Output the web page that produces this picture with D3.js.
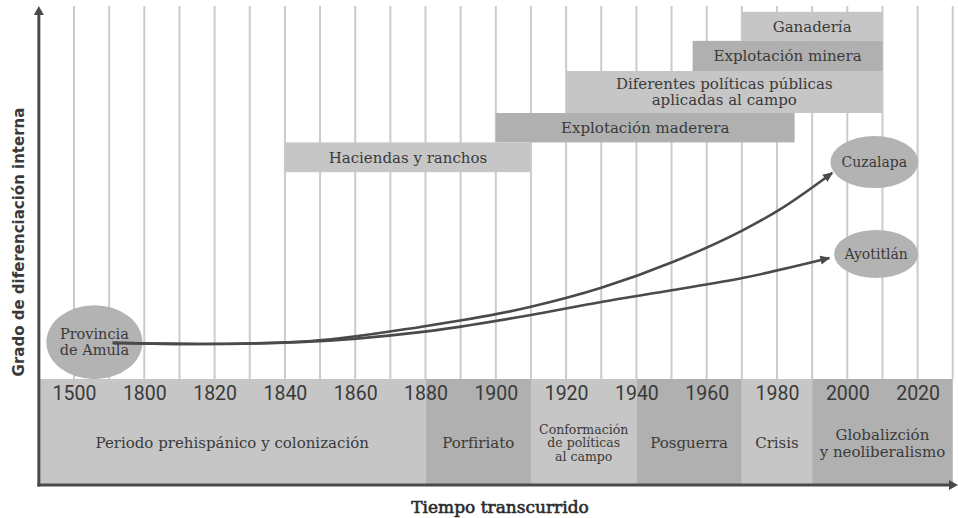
<!DOCTYPE html>
<html lang="es">
<head>
<meta charset="utf-8">
<title>Grado de diferenciación interna</title>
<script src="https://cdn.jsdelivr.net/npm/d3@7"></script>
<style>
    body { margin: 0; background: #fff; }
    svg { display: block; }
    .grid line { stroke: #cbcbcb; stroke-width: 2; }
    .lbl { font-family: "DejaVu Serif", serif; font-size: 15px; fill: #3a3a3a; }
    .yr text { font-family: Roboto, "DejaVu Sans", sans-serif; font-weight: 400; font-size: 19.5px; fill: #3a3a3a; }
    .title { font-family: "DejaVu Serif", serif; font-size: 17px; fill: #2b2b2b; stroke: #2b2b2b; stroke-width: 0.6; }
    .ytitle { font-family: "DejaVu Sans", sans-serif; font-weight: bold; font-size: 15px; fill: #3a3a3a; }
</style>
</head>
<body>
<div id="chart"></div>
<script>
// ticks along the time axis (first position is the 1500 break)
var tickYears  = [1780, 1800, 1820, 1840, 1860, 1880, 1900, 1920, 1940, 1960, 1980, 2000, 2020];
var tickLabels = ["1500", "1800", "1820", "1840", "1860", "1880", "1900", "1920", "1940", "1960", "1980", "2000", "2020"];
var gridYears  = d3.range(1780, 2031, 10);

// historical periods (bottom band)
var periodNames = [
    ["Periodo prehispánico y colonización"],
    ["Porfiriato"],
    ["Conformación", "de políticas", "al campo"],
    ["Posguerra"],
    ["Crisis"],
    ["Globalizción", "y neoliberalismo"]
];
var periodStart = [1770, 1880, 1910, 1940, 1970, 1990];
var periodEnd   = [1880, 1910, 1940, 1970, 1990, 2030];

// processes (upper bars)
var barNames = [
    ["Ganadería"],
    ["Explotación minera"],
    ["Diferentes políticas públicas", "aplicadas al campo"],
    ["Explotación maderera"],
    ["Haciendas y ranchos"]
];
var barStart = [1970, 1956, 1920, 1900, 1840];
var barEnd   = [2010, 2010, 2010, 1985, 1910];
var barLow   = [90.9, 82.8, 71.5, 63.6, 55.6];
var barHigh  = [98.7, 90.9, 82.8, 71.5, 63.6];

// communities
var placeNames  = [["Provincia", "de Amula"], ["Cuzalapa"], ["Ayotitlán"]];
var placeYears  = [1785.8, 2007.7, 2008.2];
var placeValues = [9.9, 58.3, 33.6];

// differentiation trajectories
var cuzalapaYears  = [1791, 1816, 1844, 1878.5, 1910, 1930, 1950.5, 1970.5, 1980.5, 1995.7];
var cuzalapaValues = [9.7, 9.4, 10.0, 14.0, 19.4, 24.5, 31.5, 40.1, 45.4, 55.4];
var ayotitlanYears  = [1791, 1816, 1844, 1878.5, 1910, 1930, 1950.5, 1970.5, 1994.9];
var ayotitlanValues = [9.7, 9.4, 9.9, 12.6, 17.2, 20.7, 23.9, 27.2, 32.5];

var width = 958, height = 518;
var light = "#c6c6c6", dark = "#b0b0b0", ink = "#4a4a4a";

var x = d3.scaleLinear().domain([1770, 2030]).range([38.85, 952.75]);
var y = d3.scaleLinear().domain([0, 100]).range([379, 7]);
var bandBottom = 485;

var svg = d3.select("#chart").append("svg")
    .attr("width", width)
    .attr("height", height);

var defs = svg.append("defs");
defs.append("marker")
    .attr("id", "arrow")
    .attr("markerUnits", "userSpaceOnUse")
    .attr("viewBox", "0 -5 10 10")
    .attr("refX", 9).attr("refY", 0)
    .attr("markerWidth", 11).attr("markerHeight", 10)
    .attr("orient", "auto")
    .append("path")
    .attr("d", "M0,-4.5L10,0L0,4.5Z")
    .attr("fill", ink);

// writes multi-line labels as tspans centred on the text's y
function wrapLines(sel, gap) {
    sel.each(function(d) {
        var t = d3.select(this);
        d.forEach(function(line, j) {
            t.append("tspan")
                .attr("x", t.attr("x"))
                .attr("dy", j === 0 ? (0.35 - (d.length - 1) * gap / 2) + "em" : gap + "em")
                .text(line);
        });
    });
}

// vertical grid
svg.append("g").attr("class", "grid")
    .selectAll("line")
    .data(gridYears)
    .enter().append("line")
    .attr("x1", d => x(d)).attr("x2", d => x(d))
    .attr("y1", 6).attr("y2", y(0));

// upper bars
var bars = svg.append("g").selectAll("g")
    .data(barNames)
    .enter().append("g");
bars.append("rect")
    .attr("x", (d, i) => x(barStart[i]))
    .attr("y", (d, i) => y(barHigh[i]))
    .attr("width", (d, i) => x(barEnd[i]) - x(barStart[i]))
    .attr("height", (d, i) => y(barLow[i]) - y(barHigh[i]))
    .attr("fill", (d, i) => i % 2 ? dark : light);
bars.append("text")
    .attr("class", "lbl")
    .attr("text-anchor", "middle")
    .attr("x", (d, i) => (x(barStart[i]) + x(barEnd[i])) / 2)
    .attr("y", (d, i) => (y(barLow[i]) + y(barHigh[i])) / 2)
    .call(wrapLines, 1.08);

// community ellipses
var rx = [48, 44, 42], ry = [37, 26, 24];
var places = svg.append("g").selectAll("g")
    .data(placeNames)
    .enter().append("g");
places.append("ellipse")
    .attr("cx", (d, i) => x(placeYears[i]))
    .attr("cy", (d, i) => y(placeValues[i]))
    .attr("rx", (d, i) => rx[i])
    .attr("ry", (d, i) => ry[i])
    .attr("fill", "#b3b3b3");
places.append("text")
    .attr("class", "lbl")
    .style("font-size", (d, i) => i ? "14px" : "14.5px")
    .attr("text-anchor", "middle")
    .attr("x", (d, i) => x(placeYears[i]))
    .attr("y", (d, i) => y(placeValues[i]))
    .call(wrapLines, 1.08);

// trajectories
var line = d3.line()
    .x(d => x(d[0]))
    .y(d => y(d[1]))
    .curve(d3.curveMonotoneX);
var paths = [d3.zip(cuzalapaYears, cuzalapaValues), d3.zip(ayotitlanYears, ayotitlanValues)];
svg.append("g").selectAll("path")
    .data(paths)
    .enter().append("path")
    .attr("d", line)
    .attr("fill", "none")
    .attr("stroke", ink)
    .attr("stroke-width", 2.6)
    .attr("marker-end", "url(#arrow)");

// bottom band of periods
var periods = svg.append("g").selectAll("g")
    .data(periodNames)
    .enter().append("g");
periods.append("rect")
    .attr("x", (d, i) => x(periodStart[i]))
    .attr("y", y(0))
    .attr("width", (d, i) => x(periodEnd[i]) - x(periodStart[i]))
    .attr("height", bandBottom - y(0))
    .attr("fill", (d, i) => i % 2 ? dark : light);
periods.append("text")
    .attr("class", "lbl")
    .style("font-size", d => d.length > 2 ? "12.5px" : "15px")
    .attr("text-anchor", "middle")
    .attr("x", (d, i) => (x(periodStart[i]) + x(periodEnd[i])) / 2)
    .attr("y", 443)
    .call(wrapLines, 1.1);

// year labels
var axis = d3.axisBottom(x)
    .tickValues(tickYears)
    .tickFormat((d, i) => tickLabels[i])
    .tickSize(0)
    .tickPadding(7);
svg.append("g").attr("class", "yr")
    .attr("transform", "translate(0," + y(0) + ")")
    .call(axis)
    .call(g => g.select(".domain").remove());

// axes with arrows
svg.append("line")
    .attr("x1", x(1770)).attr("x2", x(1770))
    .attr("y1", bandBottom + 1.5).attr("y2", 14)
    .attr("stroke", ink).attr("stroke-width", 3);
svg.append("path")
    .attr("d", "M" + (x(1770) - 5) + ",15L" + x(1770) + ",6L" + (x(1770) + 5) + ",15Z")
    .attr("fill", ink);
svg.append("line")
    .attr("x1", x(1770) - 1.5).attr("x2", 950)
    .attr("y1", bandBottom).attr("y2", bandBottom)
    .attr("stroke", ink).attr("stroke-width", 3);
svg.append("path")
    .attr("d", "M949," + (bandBottom - 5) + "L958," + bandBottom + "L949," + (bandBottom + 5) + "Z")
    .attr("fill", ink);

// titles
svg.append("text")
    .attr("class", "title")
    .attr("text-anchor", "middle")
    .attr("x", 500).attr("y", 513)
    .text("Tiempo transcurrido");
svg.append("text")
    .attr("class", "ytitle")
    .attr("text-anchor", "middle")
    .attr("transform", "translate(24,242) rotate(-90)")
    .text("Grado de diferenciación interna");
</script>
</body>
</html>
